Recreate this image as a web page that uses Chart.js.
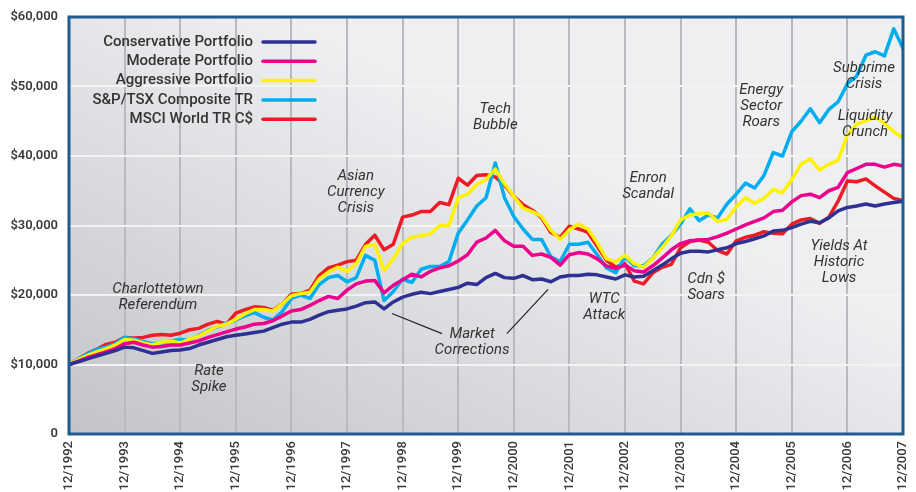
<!DOCTYPE html>
<html>
<head>
<meta charset="utf-8">
<title>Growth of $10,000</title>
<script src="https://cdn.jsdelivr.net/npm/chart.js@4"></script>
<style>
  html, body { margin: 0; padding: 0; background: #fff; }
</style>
</head>
<body>
<canvas id="growth-chart" width="916" height="492"></canvas>
<script>
// months since 12/1992, one reading every second month
const months = Array.from({ length: 91 }, (_, i) => i * 2);
const yearLabels = ["12/1992", "12/1993", "12/1994", "12/1995", "12/1996", "12/1997", "12/1998", "12/1999",
  "12/2000", "12/2001", "12/2002", "12/2003", "12/2004", "12/2005", "12/2006", "12/2007"];
const yTickLabels = ["0", "$10,000", "$20,000", "$30,000", "$40,000", "$50,000", "$60,000"];

const seriesNames = ["Conservative Portfolio", "Moderate Portfolio", "Aggressive Portfolio", "S&P/TSX Composite TR", "MSCI World TR C$"];
const seriesColors = ["#2e3192", "#ec008c", "#fff200", "#00aeef", "#ed1c24"];

const conservative = [10000,
  10400, 10800, 11200, 11600, 12000, 12500,
  12400, 12000, 11600, 11800, 12000, 12100,
  12300, 12800, 13200, 13600, 14000, 14200,
  14400, 14600, 14800, 15300, 15800, 16100,
  16100, 16500, 17100, 17600, 17800, 18000,
  18400, 18900, 19000, 18000, 19000, 19700,
  20100, 20400, 20200, 20500, 20800, 21100,
  21700, 21500, 22500, 23100, 22500, 22400,
  22800, 22200, 22300, 21900, 22600, 22800,
  22800, 23000, 22900, 22600, 22300, 22900,
  22600, 22700, 23500, 24300, 25200, 26000,
  26300, 26300, 26200, 26500, 26800, 27400,
  27700, 28100, 28500, 29200, 29300, 29700,
  30200, 30600, 30400, 31100, 32100, 32600,
  32800, 33100, 32800, 33100, 33300, 33500];

const moderate = [10000,
  10500, 11000, 11400, 11800, 12300, 13000,
  13200, 12800, 12500, 12600, 12800, 12800,
  13100, 13400, 13900, 14300, 14700, 15100,
  15400, 15800, 15900, 16300, 17000, 17700,
  17900, 18500, 19200, 19800, 19500, 20700,
  21600, 22000, 22100, 20300, 21400, 22200,
  23000, 22600, 23400, 23900, 24200, 24900,
  25800, 27600, 28200, 29300, 27800, 27000,
  27000, 25700, 25900, 25400, 24300, 25800,
  26100, 25900, 25200, 24200, 23800, 24300,
  23500, 23300, 24200, 25300, 26500, 27400,
  27800, 27900, 28000, 28400, 28900, 29500,
  30100, 30600, 31100, 32000, 32200, 33400,
  34300, 34500, 34000, 35000, 35500, 37600,
  38200, 38800, 38800, 38400, 38800, 38600];

const aggressive = [10000,
  10700, 11300, 11800, 12300, 12800, 13600,
  13500, 13100, 12800, 13200, 13400, 13100,
  13600, 14100, 14800, 15500, 15800, 16500,
  17300, 17900, 17900, 17700, 18700, 19900,
  20200, 20400, 22300, 23300, 24000, 23400,
  24500, 27000, 27300, 23500, 25200, 27400,
  28300, 28500, 28800, 30000, 30000, 34000,
  34500, 35900, 36600, 38100, 36000, 34200,
  32500, 32000, 31300, 29300, 28000, 29400,
  30200, 29500, 27500, 25200, 24800, 25700,
  24500, 24000, 25300, 26800, 28500, 30800,
  31500, 31700, 31800, 30600, 30900, 32700,
  34000, 33200, 33900, 35200, 34700, 36600,
  38800, 39600, 38000, 38800, 39400, 43000,
  44600, 45100, 45600, 44700, 43500, 42600];

const tsx = [10000,
  10800, 11500, 12200, 12500, 13000, 13900,
  13700, 13300, 13000, 13100, 13400, 13600,
  13500, 14200, 14900, 15400, 15900, 16400,
  17000, 17500, 16800, 16400, 17600, 19500,
  20000, 19500, 21500, 22500, 22800, 21900,
  22500, 25700, 25000, 19200, 20500, 22300,
  21800, 23700, 24100, 24100, 24800, 28900,
  30800, 32800, 34000, 39000, 34000, 31300,
  29500, 28000, 28000, 25500, 24800, 27300,
  27300, 27600, 25800, 23900, 23200, 25500,
  24200, 24200, 25300, 27300, 28600, 30200,
  32400, 30700, 31500, 31100, 33100, 34500,
  36100, 35400, 37200, 40500, 40000, 43500,
  45000, 46800, 44800, 46700, 47800, 50400,
  51500, 54500, 55000, 54400, 58300, 55500];

const msci = [10000,
  10800, 11600, 12200, 12900, 13200, 13900,
  13800, 13900, 14200, 14300, 14200, 14500,
  15000, 15200, 15800, 16200, 15800, 17400,
  17900, 18300, 18200, 17800, 18700, 20100,
  20200, 20700, 22800, 23900, 24300, 24800,
  25000, 27300, 28600, 26500, 27300, 31200,
  31500, 32000, 32000, 33300, 33000, 36800,
  35800, 37200, 37300, 37000, 35800, 34200,
  33000, 32200, 31100, 29000, 28300, 29900,
  29500, 29000, 27000, 25000, 24000, 24500,
  22000, 21600, 23200, 24000, 24400, 26800,
  27700, 27900, 27600, 26400, 25900, 27800,
  28300, 28600, 29100, 28900, 28800, 30200,
  30800, 31000, 30300, 31200, 33500, 36400,
  36300, 36700, 35700, 34800, 33900, 33600];

const allSeries = [conservative, moderate, aggressive, tsx, msci];

// event notes, placed at (month, value) of their first line
const notes = [
  { m: 19.2, v: 20800, lines: ["Charlottetown", "Referendum"] },
  { m: 30.2, v: 8960, lines: ["Rate", "Spike"] },
  { m: 61.9, v: 37140, lines: ["Asian", "Currency", "Crisis"] },
  { m: 92, v: 46670, lines: ["Tech", "Bubble"] },
  { m: 87, v: 14300, lines: ["Market", "Corrections"] },
  { m: 115.5, v: 19360, lines: ["WTC", "Attack"] },
  { m: 125, v: 36850, lines: ["Enron", "Scandal"] },
  { m: 137.5, v: 22250, lines: ["Cdn $", "Soars"] },
  { m: 149.4, v: 49420, lines: ["Energy", "Sector", "Roars"] },
  { m: 171.6, v: 52600, lines: ["Subprime", "Crisis"] },
  { m: 171.8, v: 45660, lines: ["Liquidity", "Crunch"] },
  { m: 166.2, v: 27020, lines: ["Yields At", "Historic", "Lows"] }
];
const pointers = [
  [[69.7, 17340], [80.5, 14450]],
  [[94.5, 14450], [103.4, 20810]]
];

Chart.defaults.font.family = "Roboto, 'DejaVu Sans', sans-serif";

const plotFrame = {
  id: "plotFrame",
  beforeDraw(chart) {
    const { ctx, chartArea: a } = chart;
    const w = a.right - a.left, h = a.bottom - a.top;
    const p = (w * w + h * h) / (2 * w + 0.0001) / 2.5;
    const g = ctx.createLinearGradient(a.left, a.bottom, a.left + p, a.bottom - 2 * p);
    g.addColorStop(0, "#c3c4c7");
    g.addColorStop(1, "#eeeff1");
    ctx.save();
    ctx.fillStyle = g;
    ctx.fillRect(a.left, a.top, w, h);
    ctx.restore();
  },
  afterDatasetsDraw(chart) {
    const { ctx, chartArea: a } = chart;
    ctx.save();
    ctx.strokeStyle = "#1d5b92";
    ctx.lineWidth = 3;
    ctx.strokeRect(a.left, a.top, a.right - a.left, a.bottom - a.top);
    ctx.restore();
  }
};

const legendAndNotes = {
  id: "legendAndNotes",
  afterDraw(chart) {
    const { ctx } = chart;
    const xs = chart.scales.x, ys = chart.scales.y;
    ctx.save();
    // legend: text right aligned, sample line on its right
    ctx.font = "500 15px Roboto";
    ctx.textAlign = "right";
    ctx.textBaseline = "middle";
    chart.data.datasets.forEach((ds, i) => {
      const y = 42 + i * 19.3;
      ctx.fillStyle = "#333";
      ctx.fillText(ds.label, 253, y);
      ctx.strokeStyle = ds.borderColor;
      ctx.lineWidth = 3.5;
      ctx.lineCap = "round";
      ctx.beginPath();
      ctx.moveTo(263, y);
      ctx.lineTo(315, y);
      ctx.stroke();
    });
    // notes
    ctx.font = "italic 15px Roboto";
    ctx.textAlign = "center";
    ctx.fillStyle = "#333";
    notes.forEach(n => {
      const x = xs.getPixelForValue(n.m), y = ys.getPixelForValue(n.v);
      n.lines.forEach((t, k) => ctx.fillText(t, x, y + k * 16));
    });
    ctx.strokeStyle = "#222";
    ctx.lineWidth = 1.2;
    ctx.lineCap = "butt";
    pointers.forEach(([p0, p1]) => {
      ctx.beginPath();
      ctx.moveTo(xs.getPixelForValue(p0[0]), ys.getPixelForValue(p0[1]));
      ctx.lineTo(xs.getPixelForValue(p1[0]), ys.getPixelForValue(p1[1]));
      ctx.stroke();
    });
    ctx.restore();
  }
};

const ctx = document.getElementById("growth-chart").getContext("2d");
new Chart(ctx, {
  type: "line",
  data: {
    datasets: seriesNames.map((name, i) => ({
      label: name,
      data: allSeries[i].map((v, k) => ({ x: months[k], y: v })),
      borderColor: seriesColors[i],
      backgroundColor: seriesColors[i],
      borderWidth: 3.5,
      pointRadius: 0,
      tension: 0,
      fill: false
    }))
  },
  options: {
    responsive: false,
    animation: false,
    layout: { padding: { top: 17, right: 13, left: 0, bottom: 0 } },
    plugins: { legend: { display: false }, tooltip: { enabled: false } },
    elements: { line: { borderJoinStyle: "round", borderCapStyle: "round" } },
    scales: {
      x: {
        type: "linear",
        min: 0,
        max: 180,
        afterFit(s) { s.height = 58; s.paddingLeft = 0; s.paddingRight = 0; },
        grid: { color: "#b9babd", lineWidth: 2, drawTicks: false },
        border: { display: false },
        ticks: {
          stepSize: 12,
          autoSkip: false,
          minRotation: 90,
          maxRotation: 90,
          padding: 7,
          color: "#3a3a3a",
          font: { size: 13, weight: "500" },
          callback: v => yearLabels[v / 12]
        }
      },
      y: {
        min: 0,
        max: 60000,
        afterFit(s) { s.width = 69; s.paddingTop = 0; s.paddingBottom = 0; },
        grid: { color: "#f3f3f4", lineWidth: 2, drawTicks: false },
        border: { display: false },
        ticks: {
          stepSize: 10000,
          padding: 11,
          color: "#3a3a3a",
          font: { size: 13, weight: "600" },
          callback: v => yTickLabels[v / 10000]
        }
      }
    }
  },
  plugins: [plotFrame, legendAndNotes]
});
</script>
</body>
</html>
